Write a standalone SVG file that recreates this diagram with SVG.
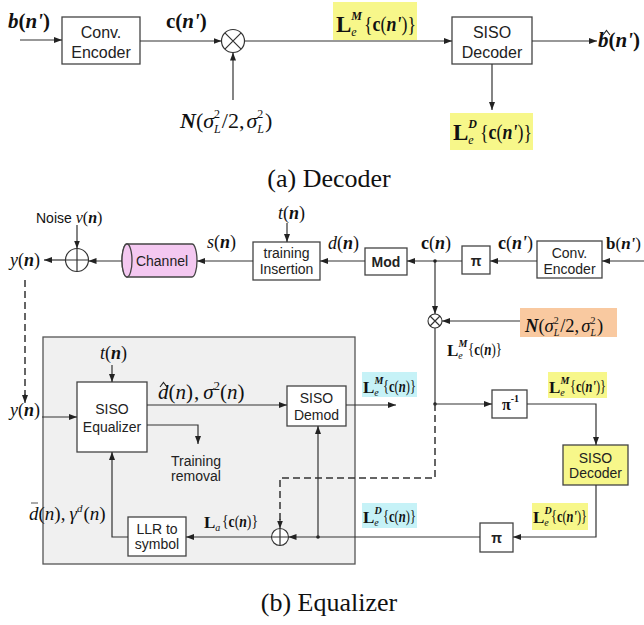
<svg xmlns="http://www.w3.org/2000/svg" width="644" height="625" viewBox="0 0 644 625">
<defs>
<marker id="ah" markerWidth="8" markerHeight="6" refX="8" refY="3" orient="auto" markerUnits="userSpaceOnUse"><path d="M0,0 L8,3 L0,6 z" fill="#222"/></marker>
</defs>
<style>
.box{fill:#fff;stroke:#444;stroke-width:1.3}
.ln{fill:none;stroke:#333;stroke-width:1.2}
.dash{fill:none;stroke:#333;stroke-width:1.5;stroke-dasharray:7 4}
.acc{fill:none;stroke:#222;stroke-width:1.1}
.sa{font-family:"Liberation Sans",Arial,sans-serif;font-size:16px;fill:#222;text-anchor:middle}
.sb{font-family:"Liberation Sans",Arial,sans-serif;font-size:14px;fill:#222;text-anchor:middle}
.m{font-family:"Liberation Serif","Times New Roman",serif;fill:#111}
.b{font-weight:bold}
.i{font-style:italic}
.bi{font-weight:bold;font-style:italic}
.n{font-weight:normal;font-style:normal}
.sub{font-weight:normal;font-style:italic}
.cap{font-family:"Liberation Serif","Times New Roman",serif;font-size:26px;fill:#111}
.hy{fill:#f7f78a}
.hc{fill:#c6f2f7}
.ho{fill:#f9c9a0}
</style>

<!-- ============ (a) Decoder ============ -->
<g id="a-in-label"><text class="m" x="8" y="28" font-size="21"><tspan class="bi">b</tspan><tspan class="b">(</tspan><tspan class="bi">n'</tspan><tspan class="b">)</tspan></text></g>

<g id="a-encoder">
<rect class="box" x="62" y="17" width="78" height="47"/>
<text class="sa" x="101" y="38">Conv.</text>
<text class="sa" x="101" y="58">Encoder</text>
</g>

<g id="a-c-label"><text class="m" x="166" y="28" font-size="21"><tspan class="b">c</tspan><tspan class="b">(</tspan><tspan class="bi">n'</tspan><tspan class="b">)</tspan></text></g>

<g id="a-mult">
<circle cx="233" cy="41" r="11.5" fill="#fff" stroke="#333" stroke-width="1.2"/>
<path class="ln" d="M224.9,32.9 L241.1,49.1 M241.1,32.9 L224.9,49.1"/>
</g>

<g id="a-noise">
<text class="m" x="180" y="128" font-size="22"><tspan class="bi">N</tspan>(<tspan class="i">σ</tspan><tspan font-size="12" dy="-10">2</tspan><tspan class="i" font-size="12" dx="-6" dy="15">L</tspan><tspan dy="-5" dx="1">/2,</tspan><tspan class="i" dx="2">σ</tspan><tspan font-size="12" dy="-10">2</tspan><tspan class="i" font-size="12" dx="-6" dy="15">L</tspan><tspan dy="-5" dx="1">)</tspan></text>
</g>

<g id="a-lm-label">
<rect class="hy" x="333" y="2" width="84" height="38"/>
<text class="m b" x="336" y="32" font-size="23">L<tspan class="sub" font-size="12" dy="4">e</tspan><tspan class="bi" font-size="12" dx="-5.3" dy="-16">M</tspan><tspan class="n" x="364" dy="11" font-size="21" textLength="52" lengthAdjust="spacingAndGlyphs">{<tspan class="b">c</tspan>(<tspan class="bi">n'</tspan>)}</tspan></text>
</g>

<g id="a-decoder">
<rect class="box" x="452" y="17" width="80" height="47"/>
<text class="sa" x="492" y="38">SISO</text>
<text class="sa" x="492" y="58">Decoder</text>
</g>

<g id="a-out-label">
<text class="m" x="598" y="47" font-size="21"><tspan class="bi">b</tspan><tspan class="b">(</tspan><tspan class="bi">n'</tspan><tspan class="b">)</tspan></text>
<path class="acc" d="M603,35 L606.5,30.5 L610,35"/>
</g>

<g id="a-ld-label">
<rect class="hy" x="450" y="113" width="83" height="37"/>
<text class="m b" x="453" y="140" font-size="23">L<tspan class="sub" font-size="12" dy="4">e</tspan><tspan class="bi" font-size="12" dx="-5.3" dy="-16">D</tspan><tspan class="n" x="480" dy="11" font-size="21" textLength="52" lengthAdjust="spacingAndGlyphs">{<tspan class="b">c</tspan>(<tspan class="bi">n'</tspan>)}</tspan></text>
</g>

<text class="cap" x="329" y="187" text-anchor="middle">(a) Decoder</text>

<!-- ============ (b) Equalizer ============ -->
<g id="eq-frame"><rect x="43" y="337" width="312" height="227" fill="#f0f0f0" stroke="#555" stroke-width="1.3"/></g>

<g id="b-noise-label"><text class="m" x="36" y="223" font-size="16"><tspan font-family="Liberation Sans, Arial, sans-serif" font-size="14">Noise </tspan><tspan class="i">v</tspan>(<tspan class="bi">n</tspan>)</text></g>

<g id="b-adder-top">
<circle cx="77" cy="260" r="11.5" fill="#fff" stroke="#333" stroke-width="1.2"/>
<path class="ln" d="M65.5,260 H88.5 M77,248.5 V271.5"/>
</g>

<g id="b-y-top"><text class="m" x="10" y="266" font-size="18"><tspan class="i">y</tspan>(<tspan class="bi">n</tspan>)</text></g>

<g id="b-channel">
<path d="M127,244 H192 A5,16.5 0 0 1 192,277 H127 A5,16.5 0 0 1 127,244 z" fill="#f4c8f1" stroke="#444" stroke-width="1.3"/>
<ellipse cx="127" cy="260.5" rx="5" ry="16.5" fill="#f4c8f1" stroke="#444" stroke-width="1.3"/>
<text class="sb" x="162" y="266">Channel</text>
</g>

<g id="b-s-label"><text class="m" x="207" y="248" font-size="18"><tspan class="i">s</tspan>(<tspan class="bi">n</tspan>)</text></g>

<g id="b-t-top"><text class="m" x="278" y="219" font-size="18"><tspan class="i">t</tspan>(<tspan class="bi">n</tspan>)</text></g>

<g id="b-training">
<rect class="box" x="253" y="242" width="67" height="38"/>
<text class="sb" x="286.5" y="258">training</text>
<text class="sb" x="286.5" y="274">Insertion</text>
</g>

<g id="b-d-label"><text class="m" x="328" y="249" font-size="18"><tspan class="i">d</tspan>(<tspan class="bi">n</tspan>)</text></g>

<g id="b-mod">
<rect class="box" x="365" y="248" width="42" height="27"/>
<text class="sb b" x="386" y="267">Mod</text>
</g>

<g id="b-cn-label"><text class="m" x="421" y="249" font-size="18"><tspan class="b">c</tspan>(<tspan class="bi">n</tspan>)</text></g>

<g id="b-interleaver">
<rect class="box" x="462" y="246" width="28" height="28"/>
<text class="sb b" x="476" y="266" font-size="16">π</text>
</g>

<g id="b-cn1-label"><text class="m" x="498" y="249" font-size="18"><tspan class="b">c</tspan>(<tspan class="bi">n'</tspan>)</text></g>

<g id="b-encoder">
<rect class="box" x="537" y="241" width="65" height="37"/>
<text class="sb" x="569.5" y="258">Conv.</text>
<text class="sb" x="569.5" y="274">Encoder</text>
</g>

<g id="b-b-label"><text class="m" x="606" y="249" font-size="17"><tspan class="b">b</tspan>(<tspan class="bi">n'</tspan>)</text></g>

<g id="b-mult">
<circle cx="435" cy="321" r="7" fill="#fff" stroke="#333" stroke-width="1.1"/>
<path class="ln" d="M430,316 L440,326 M440,316 L430,326"/>
</g>

<g id="b-noise-src">
<rect class="ho" x="520" y="308" width="97" height="29"/>
<text class="m" x="525" y="332" font-size="18.5"><tspan class="bi">N</tspan>(<tspan class="i">σ</tspan><tspan font-size="10" dy="-8">2</tspan><tspan class="i" font-size="10" dx="-5" dy="12">L</tspan><tspan dy="-4" dx="1">/2,</tspan><tspan class="i" dx="2">σ</tspan><tspan font-size="10" dy="-8">2</tspan><tspan class="i" font-size="10" dx="-5" dy="12">L</tspan><tspan dy="-4" dx="1">)</tspan></text>
</g>

<g id="b-lm-plain">
<text class="m b" x="447" y="356" font-size="17">L<tspan class="sub" font-size="10" dy="3">e</tspan><tspan class="bi" font-size="10" dx="-4.4" dy="-12">M</tspan><tspan class="n" x="468" dy="8" font-size="16" textLength="34" lengthAdjust="spacingAndGlyphs">{<tspan class="b">c</tspan>(<tspan class="bi">n</tspan>)}</tspan></text>
</g>

<g id="b-t-eq"><text class="m" x="100" y="359" font-size="18"><tspan class="i">t</tspan>(<tspan class="bi">n</tspan>)</text></g>

<g id="b-y-eq"><text class="m" x="10" y="416" font-size="18"><tspan class="i">y</tspan>(<tspan class="bi">n</tspan>)</text></g>

<g id="b-equalizer">
<rect class="box" x="77" y="382" width="70" height="70"/>
<text class="sb" x="112" y="414">SISO</text>
<text class="sb" x="112" y="432">Equalizer</text>
</g>

<g id="b-dhat-label">
<text class="m" x="158" y="399" font-size="21"><tspan class="i">d</tspan>(<tspan class="i">n</tspan>)<tspan dx="1">,</tspan><tspan class="i" dx="4">σ</tspan><tspan font-size="13" dy="-9">2</tspan><tspan dy="9">(</tspan><tspan class="i">n</tspan>)</text>
<path class="acc" d="M160,387 L163.5,382.5 L167,387"/>
</g>

<g id="b-demod">
<rect class="box" x="287" y="386" width="59" height="40"/>
<text class="sb" x="316.5" y="403">SISO</text>
<text class="sb" x="316.5" y="420">Demod</text>
</g>

<g id="b-lm-cyan">
<rect class="hc" x="362" y="372" width="55" height="25"/>
<text class="m b" x="363" y="393" font-size="17">L<tspan class="sub" font-size="10" dy="3">e</tspan><tspan class="bi" font-size="10" dx="-4.4" dy="-12">M</tspan><tspan class="n" x="383" dy="8" font-size="16" textLength="33" lengthAdjust="spacingAndGlyphs">{<tspan class="b">c</tspan>(<tspan class="bi">n</tspan>)}</tspan></text>
</g>

<g id="b-training-removal">
<text class="sb" x="196" y="466">Training</text>
<text class="sb" x="196" y="481">removal</text>
</g>

<g id="b-deinterleaver">
<rect class="box" x="492" y="390" width="35" height="28"/>
<text class="m" x="502" y="410" font-family="Liberation Sans, Arial, sans-serif" font-size="16" font-weight="bold">π<tspan font-size="10" dy="-8">-1</tspan></text>
</g>

<g id="b-lm-yellow">
<rect class="hy" x="548" y="372" width="59" height="26"/>
<text class="m b" x="549" y="393" font-size="17">L<tspan class="sub" font-size="10" dy="3">e</tspan><tspan class="bi" font-size="10" dx="-4.4" dy="-12">M</tspan><tspan class="n" x="570" dy="8" font-size="16" textLength="36" lengthAdjust="spacingAndGlyphs">{<tspan class="b">c</tspan>(<tspan class="bi">n'</tspan>)}</tspan></text>
</g>

<g id="b-decoder">
<rect x="563" y="445" width="65" height="40" fill="#f7f78a" stroke="#444" stroke-width="1.3"/>
<text class="sb" x="595.5" y="463">SISO</text>
<text class="sb" x="595.5" y="478">Decoder</text>
</g>

<g id="b-ld-yellow">
<rect class="hy" x="532" y="503" width="56" height="27"/>
<text class="m b" x="533" y="523" font-size="17">L<tspan class="sub" font-size="10" dy="3">e</tspan><tspan class="bi" font-size="10" dx="-4.4" dy="-12">D</tspan><tspan class="n" x="551" dy="8" font-size="16" textLength="36" lengthAdjust="spacingAndGlyphs">{<tspan class="b">c</tspan>(<tspan class="bi">n'</tspan>)}</tspan></text>
</g>

<g id="b-interleaver2">
<rect class="box" x="480" y="523" width="33" height="29"/>
<text class="sb b" x="496.5" y="543" font-size="16">π</text>
</g>

<g id="b-ld-cyan">
<rect class="hc" x="362" y="503" width="55" height="25"/>
<text class="m b" x="363" y="523" font-size="17">L<tspan class="sub" font-size="10" dy="3">e</tspan><tspan class="bi" font-size="10" dx="-4.4" dy="-12">D</tspan><tspan class="n" x="383" dy="8" font-size="16" textLength="33" lengthAdjust="spacingAndGlyphs">{<tspan class="b">c</tspan>(<tspan class="bi">n</tspan>)}</tspan></text>
</g>

<g id="b-adder-bottom">
<circle cx="280" cy="537" r="8.5" fill="#fff" stroke="#333" stroke-width="1.1"/>
<path class="ln" d="M271.5,537 H288.5 M280,528.5 V545.5"/>
</g>

<g id="b-la-label">
<text class="m b" x="204" y="528" font-size="17">L<tspan class="sub" font-size="10" dy="3">a</tspan><tspan class="n" x="222" dy="-4" font-size="16" textLength="36" lengthAdjust="spacingAndGlyphs">{<tspan class="b">c</tspan>(<tspan class="bi">n</tspan>)}</tspan></text>
</g>

<g id="b-llr">
<rect class="box" x="128" y="517" width="58" height="39"/>
<text class="sb" x="157" y="534">LLR to</text>
<text class="sb" x="157" y="549">symbol</text>
</g>

<g id="b-dbar-label">
<text class="m" x="29" y="520" font-size="19"><tspan class="i">d</tspan>(<tspan class="i">n</tspan>),<tspan class="i" dx="4">γ</tspan><tspan class="i" font-size="11" dy="-8">d</tspan><tspan dy="8" dx="1">(</tspan><tspan class="i">n</tspan>)</text>
<path d="M31,503 H38" stroke="#555" stroke-width="1"/>
</g>

<!-- connectors -->
<g id="connectors">
<path class="ln" d="M20,40 H62" marker-end="url(#ah)"/>
<path class="ln" d="M140,41 H221.5" marker-end="url(#ah)"/>
<path class="ln" d="M233,100 V52.5" marker-end="url(#ah)"/>
<path class="ln" d="M244.5,41 H452" marker-end="url(#ah)"/>
<path class="ln" d="M532,41 H597" marker-end="url(#ah)"/>
<path class="ln" d="M492,64 V110" marker-end="url(#ah)"/>

<path class="ln" d="M77,225 V248.5" marker-end="url(#ah)"/>
<path class="ln" d="M65.5,260 H44" marker-end="url(#ah)"/>
<path class="ln" d="M122,261 H88.5" marker-end="url(#ah)"/>
<path class="ln" d="M253,261 H197" marker-end="url(#ah)"/>
<path class="ln" d="M287,223 V242" marker-end="url(#ah)"/>
<path class="ln" d="M365,261 H320" marker-end="url(#ah)"/>
<path class="ln" d="M462,261 H407" marker-end="url(#ah)"/>
<path class="ln" d="M537,261 H490" marker-end="url(#ah)"/>
<path class="ln" d="M644,261 H602" marker-end="url(#ah)"/>
<path class="ln" d="M435,261 V314" marker-end="url(#ah)"/>
<circle cx="435" cy="261" r="1.8" fill="#222"/>
<path class="ln" d="M520,321 H442" marker-end="url(#ah)"/>
<path class="ln" d="M435,328 V404"/>
<circle cx="435" cy="404" r="1.8" fill="#222"/>
<path class="ln" d="M435,404 H492" marker-end="url(#ah)"/>
<path class="ln" d="M527,404 H596 V445" marker-end="url(#ah)"/>
<path class="ln" d="M596,485 V537 H513" marker-end="url(#ah)"/>
<path class="ln" d="M480,537 H288.5" marker-end="url(#ah)"/>
<circle cx="318" cy="537" r="1.8" fill="#222"/>
<path class="ln" d="M318,537 V426" marker-end="url(#ah)"/>
<path class="ln" d="M346,405 H396" marker-end="url(#ah)"/>
<path class="ln" d="M271.5,537 H186" marker-end="url(#ah)"/>
<path class="ln" d="M128,537 H112 V452" marker-end="url(#ah)"/>
<path class="ln" d="M112,365 V382" marker-end="url(#ah)"/>
<path class="ln" d="M42,417 H77" marker-end="url(#ah)"/>
<path class="ln" d="M147,405 H287" marker-end="url(#ah)"/>
<path class="ln" d="M147,425 H198 V444" marker-end="url(#ah)"/>
<path class="dash" d="M25,280 V396"/>
<path class="ln" d="M25,394 V403" marker-end="url(#ah)"/>
<path class="dash" d="M435,404 V478 H280 V521"/>
<path class="ln" d="M280,519 V528.5" marker-end="url(#ah)"/>
</g>

<text class="cap" x="329" y="611" text-anchor="middle">(b) Equalizer</text>
</svg>
